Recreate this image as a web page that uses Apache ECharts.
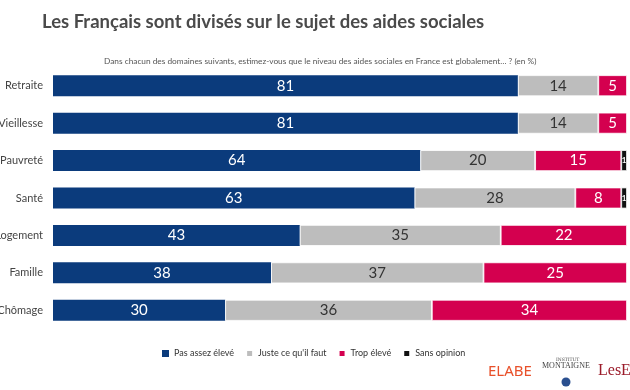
<!DOCTYPE html>
<html>
<head>
<meta charset="utf-8">
<script src="https://cdn.jsdelivr.net/npm/echarts@6/dist/echarts.min.js"></script>
<style>html,body{margin:0;padding:0;background:#fff;}#c{width:630px;height:390px;}</style>
</head>
<body>
<div id="c"></div>
<script>
var categories = ["Retraite", "Vieillesse", "Pauvreté", "Santé", "Logement", "Famille", "Chômage"];
var pasAssez = [81, 81, 64, 63, 43, 38, 30];
var juste = [14, 14, 20, 28, 35, 37, 36];
var trop = [5, 5, 15, 8, 22, 25, 34];
var sansOpinion = [0, 0, 1, 1, 0, 0, 0];
var seriesNames = ["Pas assez élevé", "Juste ce qu'il faut", "Trop élevé", "Sans opinion"];
var colors = ["#0b3b7c", "#bdbdbd", "#d4004f", "#111111"];
var labelColors = ["#ffffff", "#333333", "#ffffff", "#ffffff"];
var dataSets = [pasAssez, juste, trop, sansOpinion];

var font = "Lato, 'Open Sans', sans-serif";
var chart = echarts.init(document.getElementById('c'), null, {renderer: 'canvas'});

var series = dataSets.map(function (d, i) {
  return {
    name: seriesNames[i],
    type: 'bar',
    stack: 'total',
    barWidth: 21,
    data: d.map(function (v) { return v === 0 ? null : v; }),
    itemStyle: {color: colors[i], borderColor: '#ffffff', borderWidth: i === 0 ? 0 : 0.8},
    label: {
      show: true,
      position: 'inside',
      color: labelColors[i],
      fontFamily: font,
      fontSize: i === 3 ? 8 : 15,
      fontWeight: i === 3 ? 'bold' : 'normal'
    },
    emphasis: {disabled: true}
  };
});

chart.setOption({
  animation: false,
  backgroundColor: '#ffffff',
  title: [{
    text: 'Les Français sont divisés sur le sujet des aides sociales',
    left: 37, top: 8,
    textStyle: {fontFamily: "Lato, sans-serif", fontSize: 18.5, fontWeight: 'bold', color: '#4a4a4a'}
  }, {
    text: 'Dans chacun des domaines suivants, estimez-vous que le niveau des aides sociales en France est globalement… ? (en %)',
    left: 99, top: 52,
    textStyle: {fontFamily: font, fontSize: 8.3, fontWeight: 'normal', color: '#555555'}
  }],
  legend: {
    data: seriesNames,
    left: 157, top: 344,
    itemWidth: 7, itemHeight: 7, itemGap: 11,
    icon: 'rect',
    textStyle: {fontFamily: font, fontSize: 9, color: '#333333'}
  },
  grid: {left: 53, right: 3, top: 67, bottom: 61, containLabel: false, outerBoundsMode: 'none'},
  xAxis: {
    type: 'value', min: 0, max: 100,
    show: false
  },
  yAxis: {
    type: 'category',
    data: categories,
    inverse: true,
    axisLine: {show: false},
    axisTick: {show: false},
    axisLabel: {fontFamily: font, fontSize: 11, color: '#444444', margin: 10}
  },
  series: series,
  graphic: [
    {type: 'text', left: 488, top: 364, style: {text: 'ELABE', fontFamily: "'Noto Sans', sans-serif", fontSize: 15, fill: '#e8502a', fontWeight: 'normal'}},
    {type: 'text', left: 556, top: 357, style: {text: 'INSTITUT', fontFamily: "'DejaVu Serif', serif", fontSize: 4.5, fill: '#444'}},
    {type: 'text', left: 542, top: 362, style: {text: 'MONTAIGNE', fontFamily: "'Liberation Serif', serif", fontSize: 8, fill: '#444'}},
    {type: 'circle', shape: {cx: 566, cy: 382, r: 4.5}, style: {fill: '#2a4f8f'}},
    {type: 'text', left: 598, top: 363, style: {text: 'LesE', fontFamily: "'Liberation Serif', serif", fontSize: 16, fill: '#9b1b2a'}}
  ]
});
</script>
</body>
</html>
